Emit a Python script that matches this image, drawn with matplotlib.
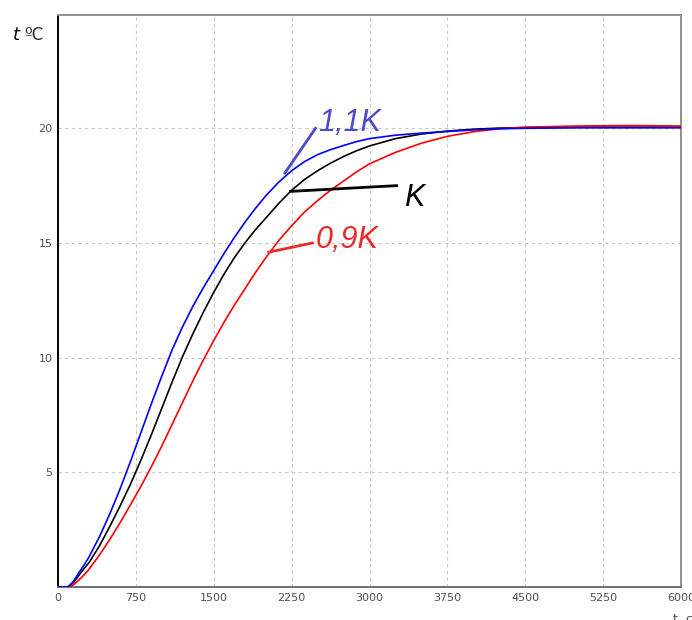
import numpy as np
import matplotlib
matplotlib.use('Agg')
from matplotlib import pyplot as plt

# время, с
t = [0, 50, 100, 150, 200, 250, 300, 400, 500, 600, 700, 800, 900, 1000,
     1100, 1200, 1300, 1400, 1500, 1600, 1700, 1800, 1900, 2000, 2125,
     2250, 2375, 2500, 2625, 2750, 2875, 3000, 3250, 3500, 3750, 4000,
     4250, 4500, 5000, 5500, 6000]

# температура при 1,1K
temp_11k = [0, 0, 0.02, 0.25, 0.62, 0.95, 1.32, 2.2, 3.2, 4.3, 5.5, 6.75,
            8.0, 9.2, 10.35, 11.35, 12.25, 13.05, 13.8, 14.55, 15.25, 15.9,
            16.5, 17.05, 17.65, 18.15, 18.55, 18.85, 19.07, 19.25, 19.42,
            19.55, 19.7, 19.79, 19.86, 19.93, 19.98, 20.0, 20.02, 20.02, 20.02]
# температура при K
temp_k = [0, 0, 0, 0.2, 0.5, 0.8, 1.07, 1.8, 2.65, 3.55, 4.5, 5.55, 6.65,
          7.8, 8.95, 10.05, 11.05, 11.98, 12.85, 13.65, 14.37, 15.0, 15.57,
          16.08, 16.72, 17.3, 17.77, 18.15, 18.48, 18.77, 19.02, 19.23, 19.55,
          19.75, 19.88, 19.96, 20.01, 20.03, 20.05, 20.05, 20.05]
# температура при 0,9K
temp_09k = [0, 0, 0, 0.1, 0.3, 0.52, 0.78, 1.4, 2.08, 2.82, 3.6, 4.4, 5.25,
            6.15, 7.1, 8.05, 9.0, 9.9, 10.75, 11.55, 12.3, 13.0, 13.7, 14.35,
            15.1, 15.75, 16.35, 16.85, 17.3, 17.7, 18.1, 18.45, 18.95, 19.35,
            19.65, 19.85, 19.98, 20.05, 20.1, 20.12, 20.1]

x_ticks = [0, 750, 1500, 2250, 3000, 3750, 4500, 5250, 6000]
y_ticks = [5, 10, 15, 20]

fig = plt.figure(figsize=(6.92, 6.2), dpi=100)
ax = fig.add_axes([58 / 692, 33 / 620, 623 / 692, 572 / 620])

ax.plot(t, temp_k, color='black', lw=1.2, zorder=3)
ax.plot(t, temp_09k, color='#ff0000', lw=1.2, zorder=3)
ax.plot(t, temp_11k, color='#0000ff', lw=1.2, zorder=4)

ax.set_xlim(0, 6000)
ax.set_ylim(0, 24.94)
ax.set_xticks(x_ticks)
ax.set_yticks(y_ticks)
ax.tick_params(length=0, labelsize=8, labelcolor='#505050', pad=4)
ax.grid(True, color='#c8c8c8', ls=(0, (3, 3)), lw=0.8)
ax.set_axisbelow(True)

ax.spines['left'].set_color('black')
ax.spines['bottom'].set_color('#707070')
ax.spines['top'].set_color('#909090')
ax.spines['right'].set_color('#909090')
for s in ax.spines.values():
    s.set_linewidth(1.4)

# подписи кривых
lab_font = dict(family='Liberation Sans', style='italic', fontsize=22)
c11 = '#4b4bcc'
c09 = '#f02828'

ax.plot([2185, 2480], [18.05, 20.0], color=c11, lw=2.0, zorder=5)
ax.text(2510, 19.9, '1,1K', color=c11, ha='left', va='baseline', **lab_font)

ax.plot([2240, 3260], [17.25, 17.5], color='black', lw=2.0, zorder=5)
ax.text(3330, 16.6, 'K', color='black', ha='left', va='baseline', **lab_font)

ax.plot([2030, 2450], [14.6, 15.0], color=c09, lw=2.0, zorder=5)
ax.text(2480, 14.8, '0,9K', color=c09, ha='left', va='baseline', **lab_font)

# подписи осей
fig.text(13 / 692, 1 - 40 / 620, 't', family='DejaVu Sans', style='italic',
         fontsize=13, color='black', va='baseline')
fig.text(24 / 692, 1 - 40 / 620, 'ºC', family='DejaVu Sans', fontsize=12,
         color='#303030', va='baseline')
fig.text(673 / 692, 1 - 613 / 620, 't, c', family='DejaVu Sans', fontsize=9,
         color='#505050', va='top')

fig.savefig('out.png', dpi=100)
